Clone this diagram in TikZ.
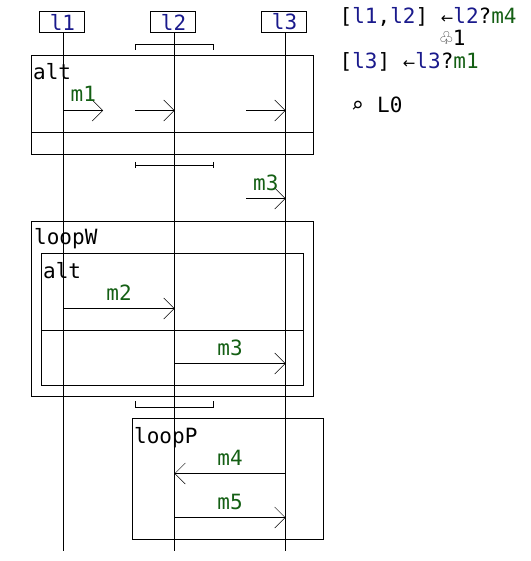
\documentclass[tikz,border=0pt]{standalone}
\usepackage{fontspec}
\setmainfont{DejaVu Sans Mono}
\setmonofont{DejaVu Sans Mono}
\newfontfamily\symfont{DejaVu Sans}
\usetikzlibrary{arrows.meta,calc}
\definecolor{lifeblue}{RGB}{26,26,140}
\definecolor{msggreen}{RGB}{20,95,20}
\newcommand{\lf}[1]{\textcolor{lifeblue}{#1}}
\newcommand{\ms}[1]{\textcolor{msggreen}{#1}}
\newcommand{\larr}{{\symfont\fontsize{15pt}{15pt}\selectfont ←}}
\tikzset{
	lifebox/.style={draw,line width=1pt,minimum width=45pt,minimum height=21pt,inner sep=0pt,text=lifeblue},
	framebox/.style={draw,line width=1pt},
	framelabel/.style={anchor=base west,inner sep=0pt},
	msglabel/.style={anchor=base,inner sep=0pt,text=msggreen},
	statetext/.style={anchor=base west,inner sep=0pt},
	msg/.style={-{Straight Barb[length=10.5pt,width=21pt,line width=0.5pt]},line width=1pt},
	bracket/.style={line width=1pt}
}
\begin{document}
\begin{tikzpicture}[x=1pt,y=-1pt,font=\fontsize{21pt}{21pt}\selectfont]
	\useasboundingbox (0,0) rectangle (530,561);
	% frames
	\draw[framebox] (31.5,55.5) rectangle (313.5,154.5);
	\draw[framebox] (31.5,132.5)--(313.5,132.5);
	\draw[framebox] (31.5,221.5) rectangle (313.5,396.5);
	\draw[framebox] (41.5,253.5) rectangle (303.5,385.5);
	\draw[framebox] (41.5,330.5)--(303.5,330.5);
	\draw[framebox] (132.5,418.5) rectangle (323.5,539.5);
	\node[framelabel] (altA) at (33,80) {alt};
	\node[framelabel] (loopW) at (34,244.5) {loopW};
	\node[framelabel] (altB) at (43,278) {alt};
	\node[framelabel] (loopP) at (134,443) {loopP};
	% lifelines
	\foreach \i/\x in {1/63.5,2/174.5,3/285.5}{
		\node[lifebox] (l\i) at (\x-1.5,22) {\hspace{1pt}l\i};
		\coordinate (end\i) at (\x,551);
		\draw[line width=1pt] (l\i.south -| end\i)--(end\i);
	}
	% brackets
	\draw[bracket] (135.5,50)--(135.5,44.5)--(213.5,44.5)--(213.5,50);
	\draw[bracket] (135.5,162)--(135.5,168) (135.5,165.5)--(213.5,165.5) (213.5,162)--(213.5,168);
	\draw[bracket] (135.5,401)--(135.5,407.5)--(213.5,407.5)--(213.5,401);
	% messages
	\foreach \n/\xa/\xb/\y/\lab in {a/63.5/103/110.5/m1,d/246/285.5/198.5/m3,e/63.5/174.5/308.5/m2,f/174.5/285.5/363.5/m3,g/285.5/174.5/473.5/m4,h/174.5/285.5/517.5/m5}{
		\coordinate (s\n) at (\xa,\y);
		\coordinate (t\n) at (\xb,\y);
		\draw[msg] (s\n)--(t\n);
		\node[msglabel] (lab\n) at ($(s\n)!0.5!(t\n)+(0,-8.5)$) {\lab};
	}
	\foreach \n/\xa/\xb in {b/135/174.5,c/246/285.5}{
		\coordinate (s\n) at (\xa,110.5);
		\coordinate (t\n) at (\xb,110.5);
		\draw[msg] (s\n)--(t\n);
	}
	% state
	\node[statetext] (st1) at (339.5,24) {[\lf{l1},\lf{l2}] \larr\lf{l2}?\ms{m4}};
	\node[statetext] (st2) at (440,46) {{\textcolor{darkgray}{♧}}1};
	\node[statetext] (st3) at (339.5,69) {[\lf{l3}] \larr\lf{l3}?\ms{m1}};
	\node[statetext] (st4) at (351,113) {⌕};
	\node[statetext] (st5) at (377,113) {L0};
\end{tikzpicture}
\end{document}
